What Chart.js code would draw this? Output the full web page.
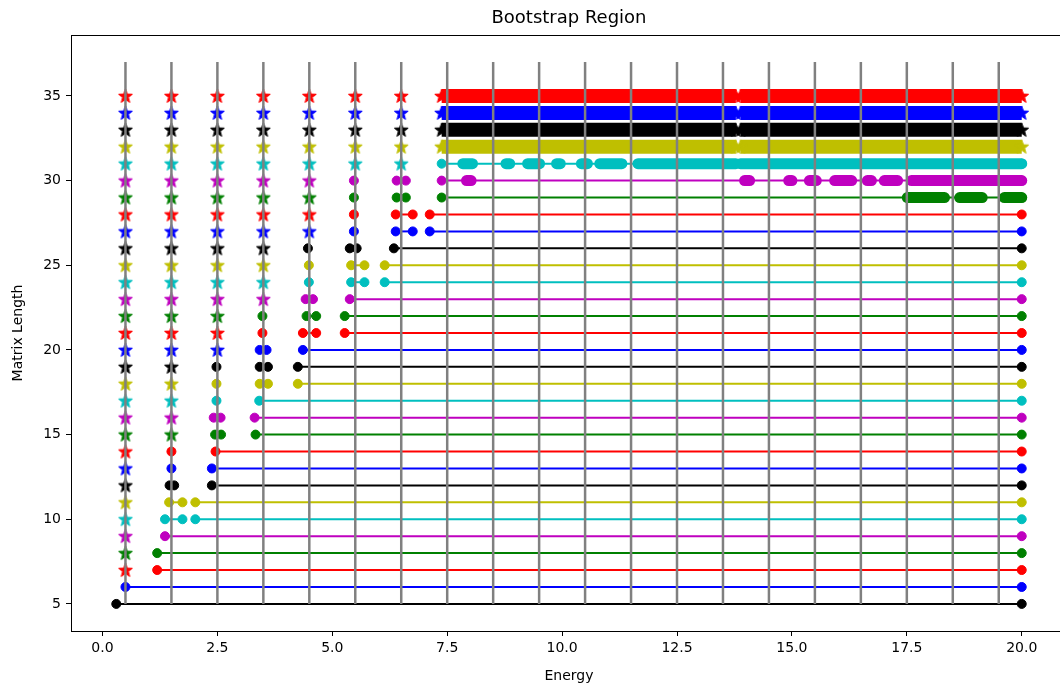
<!DOCTYPE html>
<html>
<head>
<meta charset="utf-8">
<script src="https://cdn.jsdelivr.net/npm/chart.js@4/dist/chart.umd.min.js"></script>
<style>
  html, body { margin: 0; padding: 0; background: #fff; overflow: hidden; width: 1060px; height: 689px; }
  canvas { display: block; }
</style>
</head>
<body>
<canvas id="c" width="1088" height="689" style="width:1088px;height:689px"></canvas>
<script>
// Matrix lengths, one row each (bottom to top)
const lengths = [5, 6, 7, 8, 9, 10, 11, 12, 13, 14, 15, 16, 17, 18, 19, 20,
                 21, 22, 23, 24, 25, 26, 27, 28, 29, 30, 31, 32, 33, 34, 35];

// Axis ticks and axis range
const xTicks = [0, 2.5, 5, 7.5, 10, 12.5, 15, 17.5, 20];
const yTicks = [5, 10, 15, 20, 25, 30, 35];
const xRange = [-0.685, 20.985];
const yRange = [3.4, 38.6];

// Energies of the vertical guide lines, and their vertical extent
const guideEnergies = [0.5, 1.5, 2.5, 3.5, 4.5, 5.5, 6.5, 7.5, 8.5, 9.5,
                       10.5, 11.5, 12.5, 13.5, 14.5, 15.5, 16.5, 17.5, 18.5, 19.5];
const guideSpan = [5, 37];

// Colour cycle applied row by row
const colorCycle = ['#000000', '#0000ff', '#ff0000', '#008000', '#bf00bf', '#00bfbf', '#bfbf00'];

// Star markers (energies) for each length
const starEnergies = [
  [], [],                                   // 5, 6
  [0.5], [0.5], [0.5], [0.5], [0.5], [0.5], [0.5], [0.5],          // 7-14
  [0.5, 1.5], [0.5, 1.5], [0.5, 1.5], [0.5, 1.5], [0.5, 1.5],      // 15-19
  [0.5, 1.5, 2.5], [0.5, 1.5, 2.5], [0.5, 1.5, 2.5],               // 20-22
  [0.5, 1.5, 2.5, 3.5], [0.5, 1.5, 2.5, 3.5], [0.5, 1.5, 2.5, 3.5], [0.5, 1.5, 2.5, 3.5], // 23-26
  [0.5, 1.5, 2.5, 3.5, 4.5], [0.5, 1.5, 2.5, 3.5, 4.5],
  [0.5, 1.5, 2.5, 3.5, 4.5], [0.5, 1.5, 2.5, 3.5, 4.5],            // 27-30
  [0.5, 1.5, 2.5, 3.5, 4.5, 5.5, 6.5], [0.5, 1.5, 2.5, 3.5, 4.5, 5.5, 6.5],
  [0.5, 1.5, 2.5, 3.5, 4.5, 5.5, 6.5], [0.5, 1.5, 2.5, 3.5, 4.5, 5.5, 6.5],
  [0.5, 1.5, 2.5, 3.5, 4.5, 5.5, 6.5]                              // 31-35
];

// Connected runs of circle markers (energies) for each length
const circleSegments = [
  [[0.3, 20]],                              // 5
  [[0.5, 20]],                              // 6
  [[1.19, 20]],                             // 7
  [[1.19, 20]],                             // 8
  [[1.36, 20]],                             // 9
  [[1.36, 1.74], [2.02, 20]],               // 10
  [[1.45, 1.74], [2.02, 20]],               // 11
  [[1.46, 1.56], [2.38, 20]],               // 12
  [[1.5], [2.38, 20]],                      // 13
  [[1.5], [2.46, 20]],                      // 14
  [[2.45, 2.58], [3.33, 20]],               // 15
  [[2.42, 2.57], [3.31, 20]],               // 16
  [[2.48], [3.41, 20]],                     // 17
  [[2.48], [3.42, 3.6], [4.25, 20]],        // 18
  [[2.48], [3.42, 3.6], [4.25, 20]],        // 19
  [[3.42, 3.57], [4.36, 20]],               // 20
  [[3.48], [4.36, 4.65], [5.27, 20]],       // 21
  [[3.48], [4.44, 4.65], [5.27, 20]],       // 22
  [[4.42, 4.58], [5.38, 20]],               // 23
  [[4.49], [5.41, 5.7], [6.14, 20]],        // 24
  [[4.49], [5.41, 5.7], [6.14, 20]],        // 25
  [[4.47], [5.38, 5.53], [6.34, 20]],       // 26
  [[5.47], [6.38, 6.75], [7.12, 20]],       // 27
  [[5.47], [6.38, 6.75], [7.12, 20]],       // 28
  [[5.47], [6.4, 6.6], [7.38, 20]],         // 29
  [[5.47], [6.4, 6.6], [7.38, 20]],         // 30
  [[7.38, 20]],                             // 31
  [], [], [], []                            // 32-35
];

// Densely packed circle markers: [first, last] energy of each packed run
const circleRuns = [
  [], [], [], [], [], [], [], [], [], [], [], [], [], [], [], [], [], [], [], [], [], [], [], [], // 5-28
  [[17.51, 18.32], [18.65, 19.14], [19.62, 20]],                                                  // 29
  [[7.92, 8.02], [13.97, 14.08], [14.93, 15.0], [15.38, 15.53], [15.93, 16.3],
   [16.64, 16.73], [17.01, 17.3], [17.6, 20]],                                                    // 30
  [[7.84, 8.05], [8.78, 8.86], [9.25, 9.51], [9.88, 9.96], [10.42, 10.55],
   [10.82, 11.3], [11.65, 13.78], [13.88, 20]],                                                   // 31
  [], [], [], []                                                                                  // 32-35
];

// Densely packed star markers: [first, last] energy of each packed run
const starRuns = [
  [], [], [], [], [], [], [], [], [], [], [], [], [], [], [], [], [], [], [], [], [], [], [], [], [], [], [], // 5-31
  [[7.38, 13.78], [13.88, 20]],             // 32
  [[7.38, 13.78], [13.88, 20]],             // 33
  [[7.38, 13.78], [13.88, 20]],             // 34
  [[7.38, 13.78], [13.88, 20]]              // 35
];

// Filled five-pointed star marker image
const starCache = {};
function starMarker(color) {
  if (starCache[color]) return starCache[color];
  const c = document.createElement('canvas');
  c.width = 18; c.height = 18;
  const g = c.getContext('2d');
  const outer = 7.3, inner = 3.0;
  g.beginPath();
  for (let k = 0; k < 10; k++) {
    const r = k % 2 ? inner : outer;
    const a = -Math.PI / 2 + k * Math.PI / 5;
    const px = 9 + r * Math.cos(a), py = 9.5 + r * Math.sin(a);
    if (k === 0) g.moveTo(px, py); else g.lineTo(px, py);
  }
  g.closePath();
  g.fillStyle = color; g.strokeStyle = color; g.lineWidth = 1; g.lineJoin = 'round';
  g.fill(); g.stroke();
  starCache[color] = c;
  return c;
}

const datasets = [];
lengths.forEach((L, i) => {
  const color = colorCycle[i % colorCycle.length];
  circleSegments[i].forEach(seg => {
    datasets.push({
      data: seg.map(x => ({ x, y: L })),
      showLine: true, borderColor: color, backgroundColor: color, borderWidth: 2,
      pointStyle: 'circle', pointRadius: 4.5, pointBorderWidth: 1,
      pointBorderColor: color, pointBackgroundColor: color, order: 1
    });
  });
  circleRuns[i].forEach(r => {
    datasets.push({
      data: r.map(x => ({ x, y: L })),
      showLine: true, borderColor: color, borderWidth: 11, borderCapStyle: 'round',
      pointRadius: 0, order: 1
    });
  });
  starRuns[i].forEach(r => {
    datasets.push({
      data: r.map(x => ({ x, y: L })),
      showLine: true, borderColor: color, borderWidth: 14, borderCapStyle: 'butt',
      pointStyle: starMarker(color), pointRadius: 7, order: 1
    });
  });
  if (starEnergies[i].length) {
    datasets.push({
      data: starEnergies[i].map(x => ({ x, y: L })),
      showLine: false, pointStyle: starMarker(color), pointRadius: 7, order: 1
    });
  }
});
guideEnergies.forEach(e => {
  datasets.push({
    data: guideSpan.map(y => ({ x: e, y })),
    showLine: true, borderColor: '#808080', borderWidth: 2.5, pointRadius: 0, order: 0
  });
});

// Box around the plotting area
const frame = {
  id: 'frame',
  afterDatasetsDraw(chart) {
    const { ctx, chartArea: a } = chart;
    ctx.save();
    ctx.strokeStyle = '#000';
    ctx.lineWidth = 1;
    ctx.strokeRect(Math.round(a.left) + 0.5, Math.round(a.top) + 0.5,
                   Math.round(a.right - a.left), Math.round(a.bottom - a.top));
    ctx.restore();
  }
};

const font = { family: 'DejaVu Sans', size: 14 };
new Chart(document.getElementById('c'), {
  type: 'scatter',
  data: { datasets },
  options: {
    responsive: false,
    animation: false,
    events: [],
    devicePixelRatio: 1,
    layout: { padding: 0 },
    plugins: {
      legend: { display: false },
      tooltip: { enabled: false },
      title: {
        display: true, text: 'Bootstrap Region', color: '#000', fullSize: false,
        font: { family: 'DejaVu Sans', size: 18, weight: 'normal' },
        padding: { top: 7.2, bottom: 6.2 }
      }
    },
    scales: {
      x: {
        type: 'linear', min: xRange[0], max: xRange[1],
        afterBuildTicks: s => { s.ticks = xTicks.map(v => ({ value: v })); },
        afterFit: s => { s.height = 58; },
        grid: { drawOnChartArea: false, drawTicks: true, tickLength: 5, color: '#000' },
        border: { display: true, color: '#000', width: 1 },
        ticks: { color: '#000', font, padding: 4, maxRotation: 0, autoSkip: false,
                 callback: v => v.toFixed(1) },
        title: { display: true, text: 'Energy', color: '#000', font, padding: { top: 0, bottom: 4.6 } }
      },
      y: {
        type: 'linear', min: yRange[0], max: yRange[1],
        afterBuildTicks: s => { s.ticks = yTicks.map(v => ({ value: v })); },
        afterFit: s => { s.width = 71; },
        grid: { drawOnChartArea: false, drawTicks: true, tickLength: 5, color: '#000' },
        border: { display: true, color: '#000', width: 1 },
        ticks: { color: '#000', font, padding: 5, autoSkip: false,
                 callback: v => String(v) },
        title: { display: true, text: 'Matrix Length', color: '#000', font, padding: { top: 9.6, bottom: 0 } }
      }
    }
  },
  plugins: [frame]
});
</script>
</body>
</html>
